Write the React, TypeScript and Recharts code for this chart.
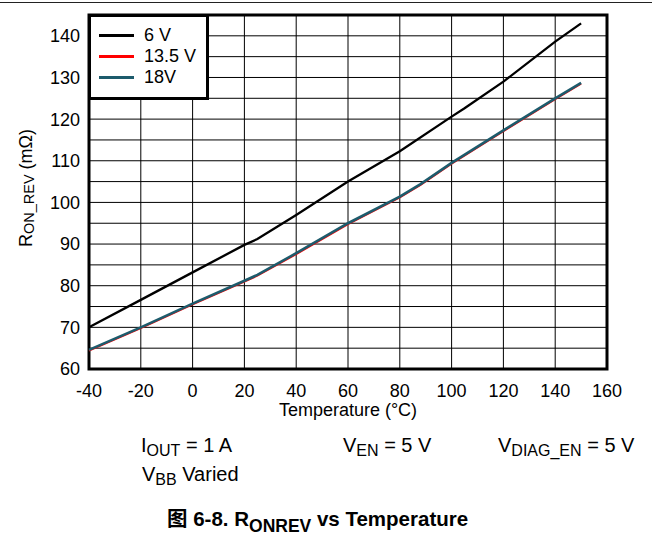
import React from "react";
import { LineChart, Line, XAxis, YAxis, CartesianGrid, ReferenceArea, Legend, Label } from "recharts";

const FONT = "'Liberation Sans', Arial, sans-serif";

// axis ticks
const tempTicks = [-40, -20, 0, 20, 40, 60, 80, 100, 120, 140, 160];
const ronTicks = [60, 65, 70, 75, 80, 85, 90, 95, 100, 105, 110, 115, 120, 125, 130, 135, 140, 145];

// 6 V
const temps6V = [-40, -20, 0, 20, 25, 40, 60, 80, 100, 105, 120, 140, 150];
const ron6V = [70, 76.6, 83.2, 89.8, 91.2, 97, 105, 112.3, 120.6, 122.6, 129, 138.6, 143];

// 13.5 V
const temps13V = [-40, -20, 0, 20, 25, 40, 60, 80, 88, 100, 120, 140, 150];
const ron13V = [64.4, 69.8, 75.5, 81, 82.4, 87.6, 94.8, 101.2, 104.2, 109.3, 117.1, 124.8, 128.5];

// 18 V
const temps18V = [-40, -20, 0, 20, 25, 40, 60, 80, 88, 100, 120, 140, 150];
const ron18V = [64.6, 70, 75.7, 81.2, 82.6, 87.8, 95, 101.4, 104.4, 109.5, 117.3, 125, 128.7];

const seriesNames = ["6 V", "13.5 V", "18V"];
const seriesColors = ["#000000", "#ff0000", "#1d5b6c"];

const toPoints = (t: number[], r: number[]) => t.map((x, i) => ({ temp: x, ron: r[i] }));

const renderLegend = () => (
  <div
    style={{
      width: 121,
      height: 86,
      boxSizing: "border-box",
      border: "3px solid #000",
      background: "#fff",
      padding: "8px 0 0 8px",
      fontFamily: FONT,
      fontSize: 18,
      color: "#000",
    }}
  >
    {seriesNames.map((n, i) => (
      <div key={n} style={{ display: "flex", alignItems: "center", height: 21 }}>
        <span style={{ display: "inline-block", width: 35, height: 3, background: seriesColors[i], marginRight: 10 }} />
        <span style={{ lineHeight: "21px" }}>{n}</span>
      </div>
    ))}
  </div>
);

const renderYLabel = (props: any) => {
  const vb = props.viewBox;
  const bx = vb.x + 32;
  const cy = vb.y + vb.height / 2 - 4;
  return (
    <text x={bx} y={cy} transform={`rotate(-90, ${bx}, ${cy})`} textAnchor="middle" fontFamily={FONT} fontSize={18} fill="#000">
      R<tspan fontSize={14.5} dy={2}>ON_REV</tspan><tspan dy={-2}> (mΩ)</tspan>
    </text>
  );
};

export default function App() {
  return (
    <div style={{ position: "absolute", left: 0, top: 0, width: 652, height: 535, background: "#fff" }}>
      <div style={{ position: "absolute", left: 0, top: 2, width: 652, height: 1, background: "#222" }} />
      <div style={{ position: "absolute", left: 0, top: 0 }}>
        <LineChart width={652} height={430} margin={{ top: 15, right: 45, left: 0, bottom: 0 }}>
          <CartesianGrid stroke="#000" strokeWidth={1} />
          <XAxis
            type="number"
            dataKey="temp"
            domain={[-40, 160]}
            ticks={tempTicks}
            height={61}
            axisLine={false}
            tickLine={false}
            tickSize={12}
            tickMargin={3}
            tick={{ fill: "#000", fontSize: 18, fontFamily: FONT }}
          >
            <Label value="Temperature (°C)" position="insideTop" offset={34} fill="#000" fontSize={18} fontFamily={FONT} />
          </XAxis>
          <YAxis
            type="number"
            domain={[60, 145]}
            ticks={ronTicks}
            width={89}
            axisLine={false}
            tickLine={false}
            tickSize={7}
            tickMargin={2}
            interval={0}
            tickFormatter={(v: number) => (v % 10 === 0 && v <= 140 ? String(v) : "")}
            tick={{ fill: "#000", fontSize: 18, fontFamily: FONT }}
          >
            <Label content={renderYLabel} />
          </YAxis>
          <ReferenceArea x1={-40} x2={160} y1={60} y2={145} fill="none" stroke="#000" strokeWidth={3} ifOverflow="visible" />
          <Line data={toPoints(temps6V, ron6V)} dataKey="ron" name={seriesNames[0]} stroke={seriesColors[0]} strokeWidth={2.3} dot={false} isAnimationActive={false} />
          <Line data={toPoints(temps13V, ron13V)} dataKey="ron" name={seriesNames[1]} stroke={seriesColors[1]} strokeWidth={2} dot={false} isAnimationActive={false} />
          <Line data={toPoints(temps18V, ron18V)} dataKey="ron" name={seriesNames[2]} stroke={seriesColors[2]} strokeWidth={2.6} dot={false} isAnimationActive={false} />
          <Legend
            layout="vertical"
            align="center"
            verticalAlign="middle"
            content={renderLegend}
            wrapperStyle={{ left: 88, top: 14, width: 121, height: 86 }}
          />
        </LineChart>
      </div>
      <svg width={652} height={535} style={{ position: "absolute", left: 0, top: 0, pointerEvents: "none" }} fontFamily={FONT} fill="#000">
        <text x={141} y={452} fontSize={20}>
          I<tspan fontSize={16} dy={4}>OUT</tspan><tspan dy={-4}> = 1 A</tspan>
        </text>
        <text x={343} y={452} fontSize={20}>
          V<tspan fontSize={16} dy={4}>EN</tspan><tspan dy={-4}> = 5 V</tspan>
        </text>
        <text x={498} y={452} fontSize={20}>
          V<tspan fontSize={16} dy={4}>DIAG_EN</tspan><tspan dy={-4}> = 5 V</tspan>
        </text>
        <text x={142} y={481} fontSize={20}>
          V<tspan fontSize={16} dy={4}>BB</tspan><tspan dy={-4}> Varied</tspan>
        </text>
        <text x={167} y={526} fontSize={20.5} fontWeight="bold">
          <tspan fontFamily="'Noto Sans CJK SC'">图</tspan> 6-8. R<tspan fontSize={17.5} dy={6}>ONREV</tspan><tspan dy={-6}> vs Temperature</tspan>
        </text>
      </svg>
    </div>
  );
}
